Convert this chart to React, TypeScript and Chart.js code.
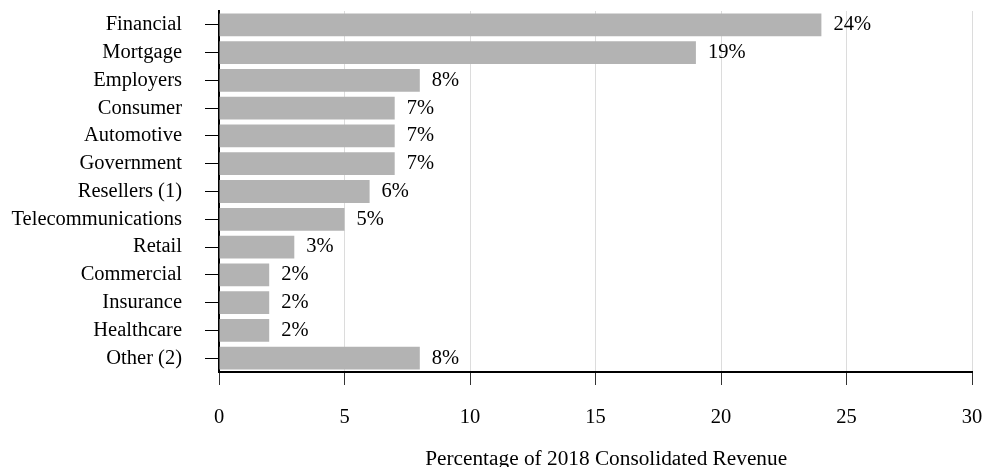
import React, { useEffect, useRef } from "react";
import { Chart, registerables } from "chart.js";

Chart.register(...registerables);

const categories = [
  "Financial",
  "Mortgage",
  "Employers",
  "Consumer",
  "Automotive",
  "Government",
  "Resellers (1)",
  "Telecommunications",
  "Retail",
  "Commercial",
  "Insurance",
  "Healthcare",
  "Other (2)",
];
const values = [24, 19, 8, 7, 7, 7, 6, 5, 3, 2, 2, 2, 8];
const xMin = 0;
const xMax = 30;
const xStep = 5;
const axisTitle = "\u00A0\u00A0\u00A0\u00A0Percentage of 2018 Consolidated Revenue";

const FONT = "'Liberation Serif', 'Times New Roman', serif";

const valueLabels = {
  id: "valueLabels",
  afterDatasetsDraw(chart: any) {
    const ctx = chart.ctx;
    const meta = chart.getDatasetMeta(0);
    ctx.save();
    ctx.font = `20.5px ${FONT}`;
    ctx.fillStyle = "#000";
    ctx.textAlign = "left";
    ctx.textBaseline = "middle";
    meta.data.forEach((bar: any, i: number) => {
      ctx.fillText(`${values[i]}%`, bar.x + 12, bar.y);
    });
    ctx.restore();
  },
};

export default function App() {
  const ref = useRef<HTMLCanvasElement | null>(null);
  useEffect(() => {
    if (!ref.current) return;
    const chart = new Chart(ref.current, {
      type: "bar",
      data: {
        labels: categories,
        datasets: [
          {
            data: values,
            backgroundColor: "#b3b3b3",
            borderWidth: 0,
            barPercentage: 0.82,
            categoryPercentage: 1,
          },
        ],
      },
      options: {
        indexAxis: "y",
        animation: false,
        responsive: true,
        maintainAspectRatio: false,
        layout: { padding: { top: 11, right: 12, left: 0, bottom: 0 } },
        plugins: {
          legend: { display: false },
          tooltip: { enabled: false },
        },
        scales: {
          x: {
            min: xMin,
            max: xMax,
            afterFit: (s: any) => {
              s.height = 95;
              s.paddingLeft = 0;
              s.paddingRight = 0;
            },
            ticks: {
              stepSize: xStep,
              padding: 20,
              color: "#000",
              font: { family: FONT, size: 20.5 },
              maxRotation: 0,
            },
            grid: {
              color: "#dcdcdc",
              tickColor: "#333",
              tickLength: 13,
              lineWidth: 1,
            },
            border: { color: "#000", width: 2 },
            title: {
              display: true,
              text: axisTitle,
              color: "#000",
              font: { family: FONT, size: 21.3, lineHeight: 1 },
              padding: { top: 0, bottom: -3 },
            },
          },
          y: {
            afterFit: (s: any) => {
              s.width = 219;
              s.paddingTop = 0;
              s.paddingBottom = 0;
            },
            ticks: {
              autoSkip: false,
              padding: 23,
              color: "#000",
              font: { family: FONT, size: 20.5 },
            },
            grid: {
              drawOnChartArea: false,
              offset: false,
              color: "#000",
              tickColor: "#000",
              tickLength: 14,
            },
            border: { color: "#000", width: 2 },
          },
        },
      },
      plugins: [valueLabels],
    } as any);
    return () => chart.destroy();
  }, []);
  return (
    <div style={{ position: "fixed", left: 0, top: 0, width: 984, height: 467, background: "#fff" }}>
      <canvas ref={ref} />
    </div>
  );
}
